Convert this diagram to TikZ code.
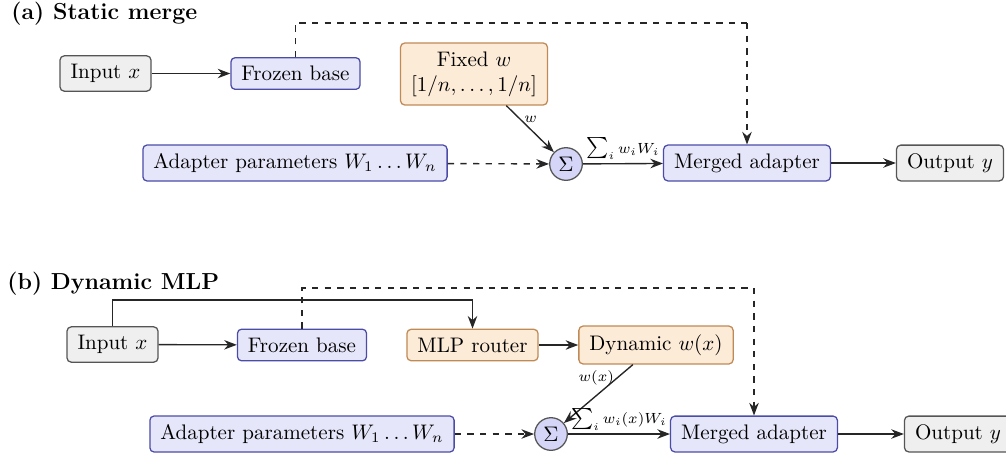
\documentclass[tikz,border=0pt]{standalone}
\usetikzlibrary{arrows.meta}
\definecolor{grayfill}{HTML}{EFEFEF}
\definecolor{graydraw}{HTML}{555555}
\definecolor{bluefill}{HTML}{E6E6FA}
\definecolor{bluedraw}{HTML}{4B4BA8}
\definecolor{orangefill}{HTML}{FCEBD7}
\definecolor{orangedraw}{HTML}{BF8A55}
\definecolor{sigfill}{HTML}{D5D5F7}
\newcommand{\bigsumlbl}{\mathop{\hbox{\normalsize$\sum$}}\nolimits}
\begin{document}
\begin{tikzpicture}[x=0.475pt,y=-0.475pt,
  box/.style={draw, rounded corners=2pt, line width=0.6pt, inner xsep=5pt, inner ysep=4pt},
  graybox/.style={box, fill=grayfill, draw=graydraw},
  bluebox/.style={box, fill=bluefill, draw=bluedraw},
  orangebox/.style={box, fill=orangefill, draw=orangedraw},
  sigmanode/.style={circle, draw=graydraw, fill=sigfill, line width=0.6pt, minimum size=15.5pt, inner sep=0pt},
  arr/.style={-{Stealth[length=6pt,width=4.5pt]}, line width=0.65pt, draw=black!85},
  darr/.style={arr, dashed},
  dline/.style={line width=0.65pt, dashed, draw=black!85},
  sline/.style={line width=0.65pt, draw=black!85},
  lbl/.style={font=\scriptsize, inner sep=1.5pt},
  title/.style={font=\fontsize{11}{13}\selectfont\bfseries, anchor=west, inner sep=0pt}]
\useasboundingbox (0,0) rectangle (1006,460);

% ---------- (a) Static merge ----------
\node[title] (ta) at (11,14) {(a) Static merge};
\node[graybox] (inA) at (105.5,73.5) {Input $x$};
\node[bluebox] (frA) at (295.5,73.5) {Frozen base};
\node[orangebox, align=center] (fixA) at (474,74) {Fixed $w$\\$[1/n,\dots,1/n]$};
\node[bluebox] (adA) at (295,163) {Adapter parameters $W_1\dots W_n$};
\node[sigmanode] (sigA) at (566,164) {$\Sigma$};
\node[bluebox] (mgA) at (747,163) {Merged adapter};
\node[graybox] (outA) at (950,163) {Output $y$};
\coordinate (a1) at (frA.north |- 0,23);
\coordinate (a2) at (mgA.north |- 0,23);

\draw[arr] (inA) -- (frA);
\draw[dline] (frA.north) -- (a1) -- (a2);
\draw[darr] (a2) -- (mgA.north);
\draw[arr] (fixA) -- node[lbl, pos=0.3, right] {$w$} (sigA);
\draw[darr] (adA) -- (sigA);
\draw[arr] (sigA) -- node[lbl, midway, above] {$\bigsumlbl_i w_i W_i$} (mgA);
\draw[arr] (mgA) -- (outA);

% ---------- (b) Dynamic MLP ----------
\node[title] (tb) at (7,284) {(b) Dynamic MLP};
\node[graybox] (inB) at (112.5,344.5) {Input $x$};
\node[bluebox] (frB) at (302,345) {Frozen base};
\node[orangebox] (mlpB) at (472.5,345) {MLP router};
\node[orangebox] (dynB) at (656,345) {Dynamic $w(x)$};
\node[bluebox] (adB) at (302,434) {Adapter parameters $W_1\dots W_n$};
\node[sigmanode] (sigB) at (551,434) {$\Sigma$};
\node[bluebox] (mgB) at (754,434) {Merged adapter};
\node[graybox] (outB) at (958,434) {Output $y$};
\coordinate (b1) at (inB.north |- 0,300);
\coordinate (b2) at (mlpB.north |- 0,300);
\coordinate (b3) at (frB.north |- 0,288);
\coordinate (b4) at (mgB.north |- 0,288);

\draw[arr] (inB) -- (frB);
\draw[sline] (inB.north) -- (b1) -- (b2);
\draw[arr] (b2) -- (mlpB.north);
\draw[dline] (frB.north) -- (b3) -- (b4);
\draw[darr] (b4) -- (mgB.north);
\draw[arr] (mlpB) -- (dynB);
\draw[arr] (dynB) -- node[lbl, pos=0.22, left] {$w(x)$} (sigB);
\draw[darr] (adB) -- (sigB);
\draw[arr] (sigB) -- node[lbl, midway, above] {$\bigsumlbl_i w_i(x) W_i$} (mgB);
\draw[arr] (mgB) -- (outB);
\end{tikzpicture}
\end{document}
